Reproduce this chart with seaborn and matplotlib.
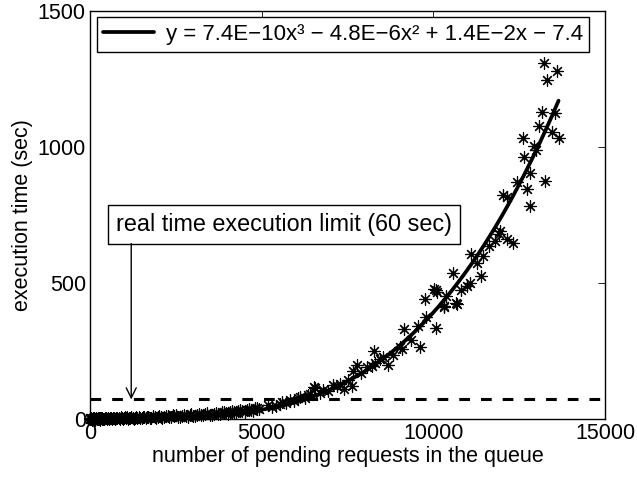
import numpy as np
import pandas as pd
import matplotlib
matplotlib.use("Agg")
import matplotlib.pyplot as plt
import seaborn as sns

# measured points: requests in queue vs execution time (sec)
low_x = [0, 20, 45, 70, 95, 120, 150, 180, 210, 240, 270, 300, 340, 380, 420, 460,
         500, 540, 590, 640, 690, 740, 800, 860, 920, 980, 1040, 1100, 1170, 1240,
         1310, 1380, 1460, 1540, 1620, 1700, 1790, 1880, 1970, 2060, 2160, 2260,
         2360, 2460, 2570, 2680, 2790, 2900, 3010, 3120, 3240, 3360, 3480, 3600,
         3720, 3840, 3960, 4080, 4200, 4320, 4440, 4560, 4680, 4800, 4920]
low_y = [1, 0, 2, 1, 0, 2, 1, 3, 1, 0, 2, 3, 1, 2, 0, 3,
         2, 1, 3, 2, 4, 1, 3, 2, 5, 3, 4, 2, 5, 3,
         6, 4, 5, 7, 5, 8, 6, 9, 7, 10, 8, 11,
         9, 12, 10, 13, 12, 15, 13, 17, 15, 19, 17, 21,
         20, 25, 22, 27, 25, 31, 29, 35, 33, 40, 37]
# second pass over the crowded band near zero
band_x = [10, 35, 60, 85, 110, 135, 165, 195, 225, 255, 285, 320, 360, 400, 440,
          480, 520, 565, 615, 665, 715, 770, 830, 890, 950, 1010, 1070, 1135, 1205,
          1275, 1345, 1420, 1500, 1580, 1660, 1745, 1835, 1925, 2015, 2110, 2210,
          2310, 2410, 2515, 2625, 2735, 2845, 2955, 3065, 3180, 3300, 3420, 3540,
          3660, 3780, 3900, 4020, 4140, 4260, 4380, 4500, 4620, 4740, 4860]
band_y = [4, 6, -2, 5, 4, -1, 5, 0, 6, 4, -1, 6, 5, 0, 6,
          5, 5, 0, 6, 6, 1, 6, 5, 7, 1, 8, 7, 3, 8,
          2, 9, 8, 3, 9, 10, 4, 11, 4, 12, 6, 13,
          7, 14, 15, 9, 16, 10, 18, 11, 20, 14, 22, 16,
          24, 18, 28, 20, 30, 24, 34, 27, 38, 32, 43]

high_x = [5194, 5300, 5420, 5535, 5583, 5700, 5826, 5950, 6068, 6117, 6250, 6360,
          6409, 6534, 6554, 6700, 6796, 6933, 7088, 7200, 7283, 7399, 7500, 7620,
          7669, 7766, 7900, 8058, 8200, 8273, 8302, 8450, 8544, 8690, 8835, 9030,
          9082, 9141, 9340, 9563, 9612, 9765, 9778, 10024, 10079, 10082, 10117,
          10294, 10312, 10370, 10566, 10671, 10700, 10797, 10991, 11070, 11090,
          11264, 11381, 11457, 11632, 11798, 11895, 11943, 12022, 12156, 12156,
          12331, 12430, 12594, 12623, 12721, 12798, 12817, 12934, 12992, 13060,
          13157, 13225, 13235, 13303, 13449, 13546, 13594, 13643]
high_y = [52, 45, 50, 55, 65, 60, 71, 68, 77, 83, 80, 89,
          93, 120, 114, 98, 108, 105, 126, 122, 130, 110, 145, 122,
          178, 199, 170, 193, 195, 252, 206, 220, 230, 199, 236, 267,
          257, 330, 291, 342, 267, 440, 374, 477, 475, 336, 468,
          416, 413, 453, 538, 428, 423, 475, 489, 501, 607,
          575, 527, 600, 636, 655, 680, 692, 823, 815, 661,
          646, 872, 1034, 964, 844, 783, 903, 1003, 989, 1078,
          1129, 1309, 876, 1245, 1056, 1125, 1280, 1031]

# cubic fit coefficients as printed in the legend
fit_coef = [7.4e-10, -4.8e-6, 1.4e-2, -7.4]
limit_sec = 73
arrow_x = 1200

df = pd.DataFrame({"requests": low_x + band_x + high_x,
                   "time": low_y + band_y + high_y})
xs = np.linspace(0, max(df["requests"]), 300)
fit = pd.DataFrame({"requests": xs, "time": np.polyval(fit_coef, xs)})

sns.set_theme(style="white")
plt.rcParams["font.family"] = ["Liberation Sans", "DejaVu Sans"]
plt.rcParams.update({"text.color": "black", "axes.labelcolor": "black",
                     "xtick.color": "black", "ytick.color": "black"})
fs = 15.5

fig = plt.figure(figsize=(6.37, 4.78), dpi=100)
ax = fig.add_axes([0.1413, 0.1228, 0.8087, 0.855])

sns.scatterplot(data=df, x="requests", y="time", marker=(8, 2, 0), s=70,
                color="black", linewidth=0.85, edgecolor="black", clip_on=False,
                zorder=3, ax=ax, legend=False)
sns.lineplot(data=fit, x="requests", y="time", color="black", linewidth=2.7,
             ax=ax, label="y = 7.4E\u221210x\u00b3 \u2212 4.8E\u22126x\u00b2 + 1.4E\u22122x \u2212 7.4",
             zorder=4)
ax.axhline(limit_sec, color="black", linewidth=2.2, linestyle=(0, (3.5, 3.6)))

ax.text(760, 715, "real time execution limit (60 sec)", va="center", ha="left",
        fontsize=16.8,
        bbox=dict(boxstyle="square,pad=0.35", fc="white", ec="black", lw=1))
ax.annotate("", xy=(arrow_x, limit_sec), xytext=(arrow_x, 645),
            arrowprops=dict(arrowstyle="->,head_length=0.6,head_width=0.3",
                            color="black", lw=1, shrinkA=0, shrinkB=0))

ax.set_xlim(0, 15000)
ax.set_ylim(0, 1500)
ax.set_xticks([0, 5000, 10000, 15000])
ax.set_yticks([0, 500, 1000, 1500])
ax.set_xlabel("number of pending requests in the queue", fontsize=fs, labelpad=1)
ax.set_ylabel("execution time (sec)", fontsize=fs, labelpad=3)
ax.tick_params(direction="in", length=5, width=0.6, top=True, right=True,
               labelsize=fs, pad=3)
for sp in ax.spines.values():
    sp.set_color("black")
    sp.set_linewidth(1.0)

leg = ax.legend(loc="upper left", fancybox=False, edgecolor="black", framealpha=1,
                handlelength=2.3, fontsize=16, borderaxespad=0.3,
                borderpad=0.3, handletextpad=0.5)
leg.get_frame().set_linewidth(1.0)

fig.savefig("out.png", dpi=100)
plt.close(fig)
